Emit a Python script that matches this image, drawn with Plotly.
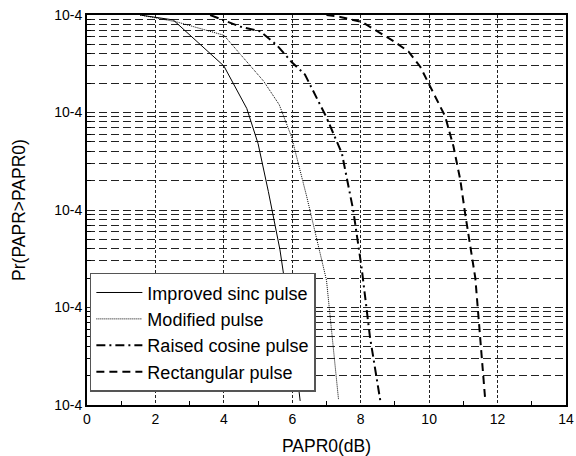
import plotly.graph_objects as go

# ---- data (x in dB, y as probability) ----
sinc_x = [1.55, 2.52, 4.0, 4.67, 5.0, 5.3, 5.64, 6.0, 6.23]
sinc_y = [1.0, 0.89, 0.30, 0.11, 0.048, 0.0155, 0.0039, 0.00055, 0.00011]

mod_x = [1.55, 2.62, 4.0, 5.16, 5.62, 5.98, 6.42, 7.0, 7.35]
mod_y = [1.0, 0.85, 0.62, 0.21, 0.12, 0.056, 0.0138, 0.0019, 0.000115]

rc_x = [3.6, 4.47, 5.06, 5.55, 5.98, 6.37, 7.0, 7.45, 7.78, 8.03, 8.27, 8.57]
rc_y = [1.0, 0.76, 0.68, 0.49, 0.33, 0.245, 0.089, 0.038, 0.01, 0.0025, 0.0005, 0.000112]

rect_x = [7.0, 7.4, 8.03, 8.47, 8.96, 9.4, 9.74, 9.98, 10.22, 10.47, 10.71,
          10.91, 11.05, 11.35, 11.64]
rect_y = [1.0, 0.955, 0.85, 0.68, 0.54, 0.42, 0.295, 0.2, 0.135, 0.091, 0.045,
          0.0204, 0.0093, 0.002, 0.000112]

series_names = ["Improved sinc pulse", "Modified pulse",
                "Raised cosine pulse", "Rectangular pulse"]

y_tickvals = [1e-4, 1e-3, 1e-2, 1e-1, 1]
y_ticktext = ["10-4", "10-4", "10-4", "10-4", "10-4"]
x_tickvals = [0, 2, 4, 6, 8, 10, 12, 14]

FONT = "Liberation Sans, Arial, Helvetica, sans-serif"

fig = go.Figure()
fig.add_trace(go.Scatter(x=sinc_x, y=sinc_y, mode="lines", name=series_names[0],
                         line=dict(color="black", width=1, dash="solid")))
fig.add_trace(go.Scatter(x=mod_x, y=mod_y, mode="lines", name=series_names[1],
                         line=dict(color="black", width=1, dash="1px,1px")))
fig.add_trace(go.Scatter(x=rc_x, y=rc_y, mode="lines", name=series_names[2],
                         line=dict(color="black", width=2, dash="9px,4px,2px,4px")))
fig.add_trace(go.Scatter(x=rect_x, y=rect_y, mode="lines", name=series_names[3],
                         line=dict(color="black", width=2, dash="8px,5px")))

minor_y = [k * 10 ** e for e in range(-4, 0) for k in range(2, 10)]
minor_x = [1, 3, 5, 7, 9, 11, 13]

fig.update_layout(
    width=576, height=456,
    margin=dict(l=87, r=9.5, t=15, b=50.5, autoexpand=False),
    paper_bgcolor="white", plot_bgcolor="white",
    font=dict(family=FONT, color="black", size=14),
    showlegend=True,
    legend=dict(x=0.006, y=0.339, xanchor="left", yanchor="top",
                bgcolor="white", bordercolor="#555", borderwidth=1.5,
                font=dict(family=FONT, size=18, color="black"),
                tracegroupgap=0, itemwidth=46),
    xaxis=dict(
        range=[0, 14], tickmode="array", tickvals=x_tickvals,
        showgrid=True, gridcolor="#222", gridwidth=1, griddash="3px,2px",
        showline=True, linecolor="black", linewidth=2, mirror=True,
        ticks="", zeroline=False,
        tickfont=dict(size=14),
        title=dict(text="PAPR0(dB)", font=dict(size=17.5), standoff=18),
        minor=dict(tickmode="array", tickvals=minor_x, ticks="inside",
                   ticklen=4, tickcolor="black", showgrid=False),
    ),
    yaxis=dict(
        type="log", range=[-4, 0], tickmode="array",
        tickvals=y_tickvals, ticktext=y_ticktext,
        showgrid=True, gridcolor="#222", gridwidth=1, griddash="8px,4px",
        showline=True, linecolor="black", linewidth=2, mirror=True,
        ticks="", zeroline=False,
        tickfont=dict(size=14),
        title=dict(text="Pr(PAPR>PAPR0)", font=dict(size=17.5), standoff=24),
        minor=dict(tickmode="array", tickvals=minor_y, ticks="inside",
                   ticklen=4, tickcolor="black", showgrid=True,
                   gridcolor="#222", gridwidth=1, griddash="8px,4px"),
    ),
)

fig.write_html("out.html",
               config={"displayModeBar": False},
               post_script="document.body.style.margin='0';document.body.style.padding='0';")
